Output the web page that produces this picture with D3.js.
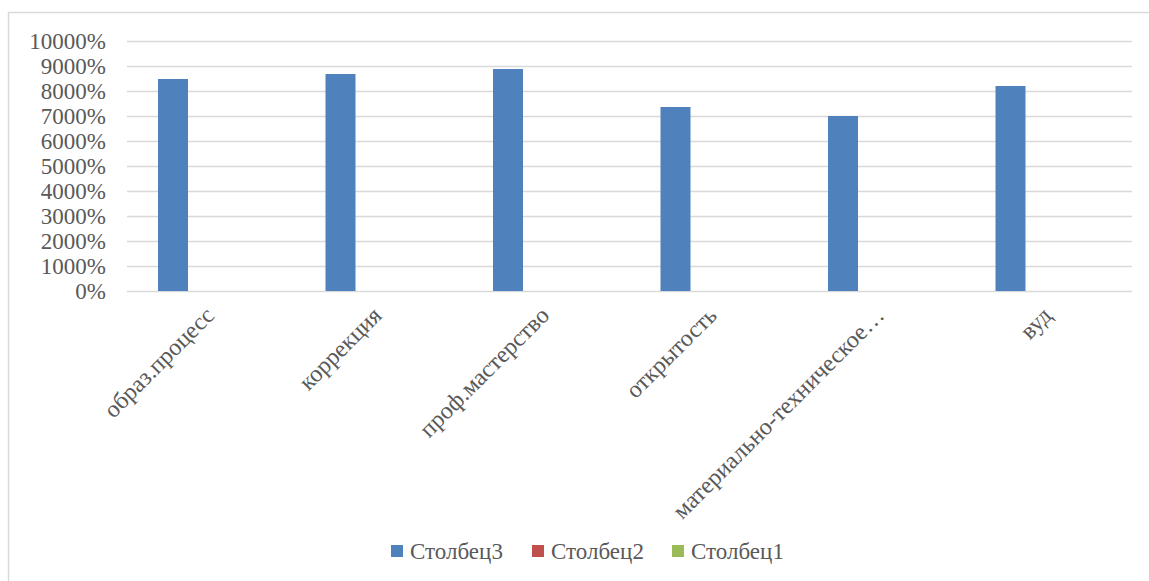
<!DOCTYPE html>
<html>
<head>
<meta charset="utf-8">
<script src="https://cdn.jsdelivr.net/npm/d3@7"></script>
<style>
  html, body { margin: 0; padding: 0; background: #fff; }
  svg { display: block; }
</style>
</head>
<body>
<svg width="1149" height="581"></svg>
<script>
// Categories along the x axis
const categories = [
  "образ.процесс",
  "коррекция",
  "проф.мастерство",
  "открытость",
  "материально-техническое…",
  "вуд"
];

// Series names, in drawing order
const seriesNames = ["Столбец3", "Столбец2", "Столбец1"];

// Series values (shown as percent: 84.8 -> 8480%)
const stolbec3 = [84.8, 86.8, 88.8, 73.6, 70, 82];
const stolbec2 = [0, 0, 0, 0, 0, 0];
const stolbec1 = [0, 0, 0, 0, 0, 0];

// Y axis ticks
const yTicks = [0, 10, 20, 30, 40, 50, 60, 70, 80, 90, 100];

const colors = ["#4F81BD", "#C0504D", "#9BBB59"];
const fontFamily = "'Liberation Serif', 'Times New Roman', 'DejaVu Serif', serif";

const svg = d3.select("svg"),
  width = +svg.attr("width"),
  height = +svg.attr("height");

// chart frame (only top and left edges are visible in the picture)
svg.append("rect")
  .attr("x", 8.5).attr("y", 12.5)
  .attr("width", width + 20).attr("height", height + 20)
  .attr("fill", "none")
  .attr("stroke", "#d9d9d9")
  .attr("stroke-width", 1.5);

const plot = { left: 127, right: 1132, top: 41, bottom: 291 };

// y scale
const y = d3.scaleLinear().domain([0, 100]).range([plot.bottom, plot.top]);

// x scale for the category groups
const x = d3.scaleBand().domain(categories).range([plot.left, plot.right]);

// inner scale for the three series inside each group (30px bars)
const x1 = d3.scaleBand()
  .domain(seriesNames)
  .range([31, 121]);

// gridlines
svg.append("g")
  .selectAll("line")
  .data(yTicks)
  .join("line")
  .attr("x1", plot.left)
  .attr("x2", plot.right)
  .attr("y1", (d) => Math.round(y(d)) + 0.5)
  .attr("y2", (d) => Math.round(y(d)) + 0.5)
  .attr("stroke", "#d9d9d9")
  .attr("stroke-width", 1.5);

// y axis labels
const yAxis = d3.axisLeft(y)
  .tickValues(yTicks)
  .tickFormat(d3.format(".0%"))
  .tickSize(0)
  .tickPadding(0);

const yg = svg.append("g")
  .attr("transform", `translate(106,0)`)
  .call(yAxis)
  .attr("font-family", null)
  .attr("font-size", null);
yg.select(".domain").remove();
yg.selectAll("text")
  .style("font-family", fontFamily)
  .style("font-size", "23px")
  .style("fill", "#595959")
  .attr("dy", "0.34em");

// bars
const seriesData = [stolbec3, stolbec2, stolbec1];
const rows = categories.map((c, i) => ({
  cat: c,
  values: seriesNames.map((s, k) => ({ key: s, value: seriesData[k][i], color: colors[k] }))
}));

svg.append("g")
  .selectAll("g")
  .data(rows)
  .join("g")
  .attr("transform", (d) => `translate(${x(d.cat)},0)`)
  .selectAll("rect")
  .data((d) => d.values)
  .join("rect")
  .attr("x", (d) => x1(d.key))
  .attr("width", x1.bandwidth())
  .attr("y", (d) => y(d.value))
  .attr("height", (d) => y(0) - y(d.value))
  .attr("fill", (d) => d.color);

// x axis labels, rotated 45 degrees
svg.append("g")
  .selectAll("text")
  .data(categories)
  .join("text")
  .attr("transform", (d) => `translate(${x(d) + x.bandwidth() / 2 - 7},305) rotate(-45)`)
  .attr("text-anchor", "end")
  .attr("dy", "0.7em")
  .style("font-family", fontFamily)
  .style("font-size", "24px")
  .style("fill", "#595959")
  .text((d) => d);

// legend
const legendX = [391, 532, 672];
const legend = svg.append("g")
  .selectAll("g")
  .data(seriesNames)
  .join("g")
  .attr("transform", (d, i) => `translate(${legendX[i]},545)`);

legend.append("rect")
  .attr("width", 12)
  .attr("height", 12)
  .attr("fill", (d, i) => colors[i]);

legend.append("text")
  .attr("x", 19)
  .attr("y", 6)
  .attr("dy", "0.35em")
  .style("font-family", fontFamily)
  .style("font-size", "23px")
  .style("fill", "#595959")
  .text((d) => d);
</script>
</body>
</html>
